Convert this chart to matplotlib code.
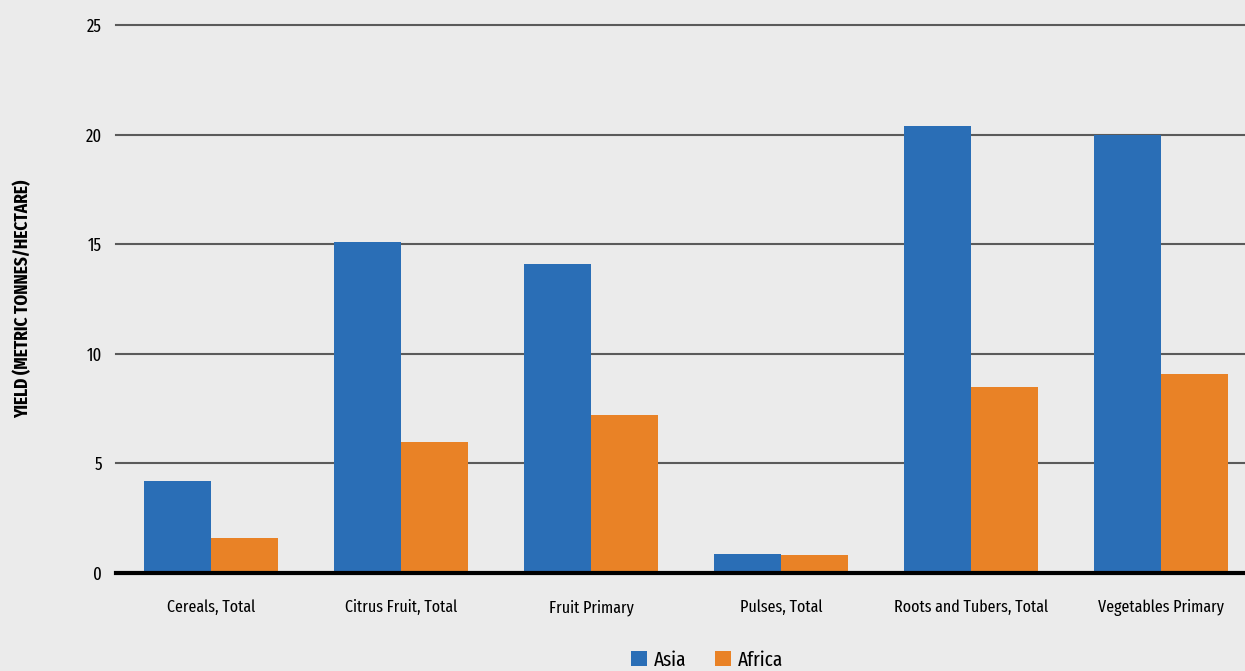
import numpy as np
import matplotlib.pyplot as plt
from matplotlib import font_manager

categories = ['Cereals, Total', 'Citrus Fruit, Total', 'Fruit Primary',
              'Pulses, Total', 'Roots and Tubers, Total', 'Vegetables Primary']
asia = [4.2, 15.1, 14.1, 0.87, 20.4, 20.0]
africa = [1.6, 6.0, 7.2, 0.8, 8.5, 9.1]
yticks = [0, 5, 10, 15, 20, 25]

# the original uses a condensed face
names = {f.name for f in font_manager.fontManager.ttflist}
prefs = ['Fira Sans Extra Condensed', 'Fira Sans Condensed', 'IBM Plex Sans Condensed']
fam = [p for p in prefs if p in names][:1]
plt.rcParams['font.family'] = fam + ['DejaVu Sans']

bg = '#ebebeb'
fig = plt.figure(figsize=(12.45, 6.71), dpi=100, facecolor=bg)
ax = fig.add_axes([0.0932, 0.146, 0.9157, 0.8167], facecolor=bg)

x = np.arange(len(categories))
w = 0.353
ax.bar(x - w/2, asia, w, color='#2a6eb6', label='Asia', zorder=3)
ax.bar(x + w/2, africa, w, color='#e98226', label='Africa', zorder=3)

ax.set_xlim(-0.5, len(categories) - 0.5)
ax.set_ylim(0, 25)
ax.set_yticks(yticks)
ax.set_xticks(x)
ax.set_xticklabels(categories, fontsize=12.5)
ax.tick_params(axis='y', length=0, pad=10, labelsize=13)
ax.tick_params(axis='x', length=0, pad=19)
for t in yticks[1:]:
    ax.axhline(t, color='#5a5a5a', lw=1.5, zorder=2, clip_on=False)
ax.axhline(0, color='black', lw=3, zorder=4, clip_on=False)
for s in ax.spines.values():
    s.set_visible(False)

fig.text(0.018, 0.555, 'YIELD (METRIC TONNES/HECTARE)', rotation=90,
         ha='center', va='center', fontsize=13.5, fontweight='bold')

fig.legend(*ax.get_legend_handles_labels(), loc='center',
           bbox_to_anchor=(0.568, 0.016), ncol=2, frameon=False, fontsize=15,
           handlelength=0.77, handleheight=0.77, handletextpad=0.34,
           columnspacing=1.35, borderpad=0)

fig.savefig('out.png', dpi=100, facecolor=bg)
